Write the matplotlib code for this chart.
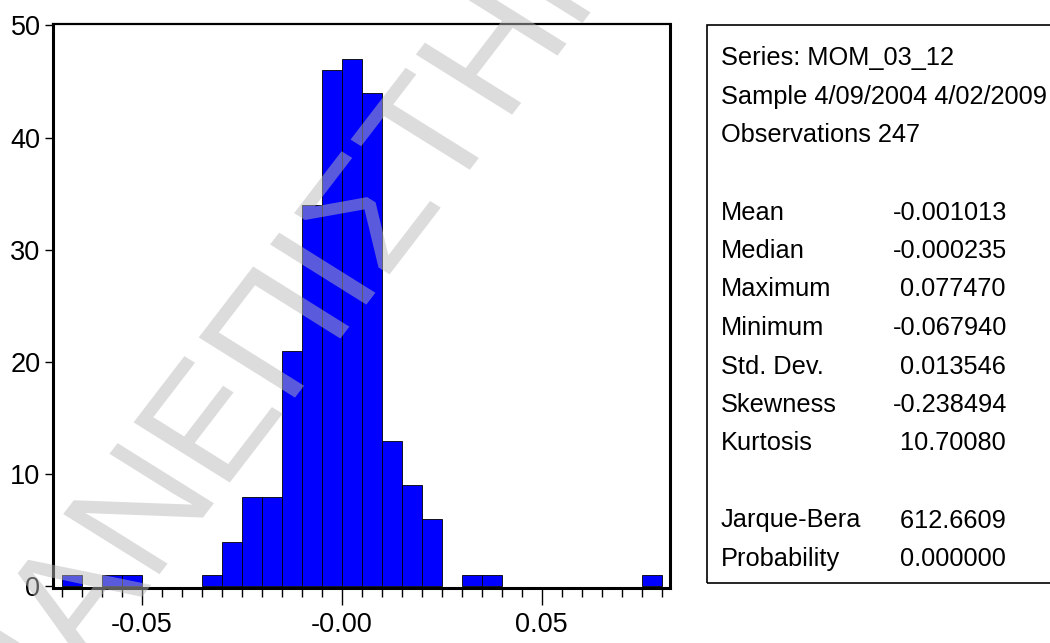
import numpy as np
import matplotlib
matplotlib.use("Agg")
import matplotlib.pyplot as plt
from matplotlib.patches import Rectangle, PathPatch
from matplotlib.textpath import TextPath
from matplotlib.font_manager import FontProperties
from matplotlib.transforms import Affine2D

plt.rcParams['font.family'] = ['Liberation Sans', 'DejaVu Sans']

# histogram of MOM_03_12 (bins of 0.005 starting at -0.07)
bin_start = -0.07
bin_width = 0.005
counts = [1, 0, 1, 1, 0, 0, 0, 1, 4, 8, 8, 21, 34, 46, 47, 44, 13, 9, 6, 0,
          1, 1, 0, 0, 0, 0, 0, 0, 0, 1]

xtick_major = [-0.05, 0.0, 0.05]
xtick_labels = ['-0.05', '-0.00', '0.05']
ytick_vals = [0, 10, 20, 30, 40, 50]

# descriptive statistics
head_lines = ['Series: MOM_03_12', 'Sample 4/09/2004 4/02/2009', 'Observations 247']
stat_names = ['Mean', 'Median', 'Maximum', 'Minimum', 'Std. Dev.', 'Skewness', 'Kurtosis']
stat_vals = [-0.001013, -0.000235, 0.077470, -0.067940, 0.013546, -0.238494, 10.70080]
test_names = ['Jarque-Bera', 'Probability']
test_vals = [612.6609, 0.000000]


def fmt(v):
    # 7 significant digits style like EViews
    n_int = len(str(int(abs(v))))
    dec = 6 if abs(v) < 1 else 7 - n_int
    return f"{v: .{dec}f}"


W, H = 1050, 643
fig = plt.figure(figsize=(W / 100, H / 100), dpi=100)
ax = fig.add_axes([53 / W, 1 - 588 / H, (670 - 53) / W, (588 - 24) / H])

counts = np.array(counts)
left = bin_start + bin_width * np.arange(len(counts))
m = counts > 0
ax.bar(left[m], counts[m], width=bin_width, align='edge',
       color='#0000ff', edgecolor='black', linewidth=0.6)

ax.set_xlim(-0.07218, 0.08208)
ax.set_ylim(-0.14, 50.13)

ax.set_xticks(xtick_major)
ax.set_xticklabels(xtick_labels)
ax.set_xticks(bin_start + bin_width * np.arange(len(counts) + 1), minor=True)
ax.set_yticks(ytick_vals)
ax.set_yticklabels([str(v) for v in ytick_vals])

ax.tick_params(axis='x', which='major', direction='out', length=12, width=1.0,
               labelsize=19.5, pad=5)
ax.tick_params(axis='x', which='minor', direction='out', length=6.5, width=1.0)
ax.tick_params(axis='y', which='major', direction='out', length=6, width=1.0,
               labelsize=19.5, pad=3)
ax.tick_params(top=False, right=False)

for s in ['left', 'bottom', 'right']:
    ax.spines[s].set_linewidth(2.2)
ax.spines['top'].set_linewidth(1.6)

# stats box
fig.add_artist(Rectangle((707 / W, 1 - 583 / H), (1060 - 707) / W, (583 - 25) / H,
                         transform=fig.transFigure, fill=False,
                         edgecolor='black', linewidth=1.2))

fs = 18.3
base0 = 65.5
step = 38.5
for k, t in enumerate(head_lines):
    fig.text(721 / W, 1 - (base0 + k * step) / H, t, fontsize=fs, va='baseline')
for k, (n, v) in enumerate(zip(stat_names, stat_vals)):
    y = 1 - (base0 + (k + 4) * step) / H
    fig.text(721 / W, y, n, fontsize=fs, va='baseline')
    fig.text(893 / W, y, fmt(v), fontsize=fs, va='baseline')
for k, (n, v) in enumerate(zip(test_names, test_vals)):
    y = 1 - (base0 + (k + 12) * step) / H
    fig.text(721 / W, y, n, fontsize=fs, va='baseline')
    fig.text(893 / W, y, fmt(v), fontsize=fs, va='baseline')

# watermark: text path mapped with an affine (baseline ~52.5 deg, letter
# uprights ~148 deg), anchored at the start of the second Π
fp = FontProperties(family='Liberation Sans')
part1 = TextPath((0, 0), 'ΠΑΝΕ', size=1, prop=fp)
part2 = TextPath((0, 0), 'ΠΙΣΤΗΜΙΟ', size=1, prop=fp)
w1 = part1.get_extents().x1 + 0.045
b_ang, u_ang = np.radians(52.5), np.radians(148)
b_len, u_len = 160, 165
mtx = np.array([[b_len * np.cos(b_ang), u_len * np.cos(u_ang), 287],
                [b_len * np.sin(b_ang), u_len * np.sin(u_ang), H - 408],
                [0, 0, 1]])
place = Affine2D(mtx)
for p, dx in [(part1, -w1), (part2, 0)]:
    tr = Affine2D().translate(dx, 0) + place
    fig.add_artist(PathPatch(p, transform=tr, facecolor='#b8b8b8',
                             edgecolor='none', alpha=0.49, zorder=10))

fig.savefig('out.png', dpi=100)
